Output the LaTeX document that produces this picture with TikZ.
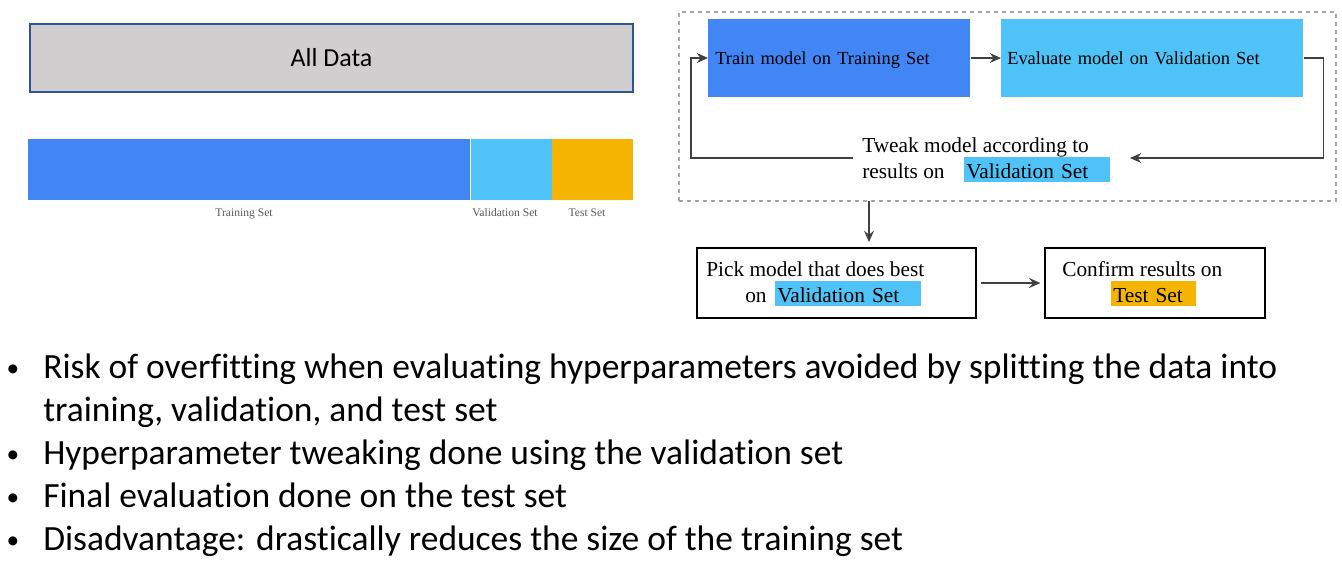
\documentclass[tikz,border=0pt]{standalone}
\usepackage{fontspec}
\setmainfont{Liberation Serif}
\newfontfamily\calibri[Ligatures=NoCommon]{Carlito}
\usetikzlibrary{arrows.meta}
\definecolor{alldata}{HTML}{D0CECF}
\definecolor{allborder}{HTML}{2F5597}
\definecolor{trainblue}{HTML}{4285F4}
\definecolor{valblue}{HTML}{4FC3F7}
\definecolor{testgold}{HTML}{F4B400}
\definecolor{linegray}{HTML}{404040}
\definecolor{dashgray}{HTML}{A6A6A6}
\definecolor{labelgray}{HTML}{595959}
\begin{document}
\begin{tikzpicture}[x=0.75pt,y=-0.75pt,
  arr/.style={draw=linegray, line width=1.4pt, -{Stealth[length=8.5pt,width=7.5pt,inset=3pt]}},
  seg/.style={draw=none, inner sep=0pt, minimum height=45.75pt, anchor=west},
  barlabel/.style={anchor=base, inner sep=0pt, text=labelgray, font=\fontsize{8.7}{10}\selectfont},
  stepbox/.style={anchor=west, inner ysep=0pt, minimum height=58.5pt, align=left,
    font=\fontsize{13.8}{16}\selectfont},
  bigtext/.style={anchor=base west, inner sep=0pt, font=\fontsize{16}{19}\selectfont},
  hl/.style={anchor=base west, inner xsep=1.5pt, inner ysep=0pt, align=left,
    text height=15.75pt, text depth=3pt, font=\fontsize{16}{19}\selectfont},
  framebox/.style={draw=black, line width=0.9pt, minimum height=52.5pt, inner sep=0pt},
  bullettext/.style={anchor=base west, inner sep=0pt, align=left,
    font=\calibri\fontsize{26.6}{32.25}\selectfont},
  bulletdot/.style={anchor=base, inner sep=0pt, font=\calibri\fontsize{19}{22}\selectfont}]
\useasboundingbox (0,0) rectangle (1342,565);

% the whole data set
\node[draw=allborder, line width=0.9pt, fill=alldata, minimum width=452.25pt, minimum height=51pt,
  inner sep=0pt, font=\calibri\fontsize{19.5}{23}\selectfont] (all) at (331.5,58) {All Data};

% split bar
\node[seg, fill=trainblue, minimum width=331.5pt] (trainseg) at (28,169.5) {};
\node[seg, fill=valblue, minimum width=60.75pt] (valseg) at (trainseg.east) {};
\node[seg, fill=testgold, minimum width=60.75pt] (testseg) at (valseg.east) {};
\node[barlabel] (trainlab) at (244,216.5) {Training Set};
\node[barlabel] (vallab) at (505,216.5) {Validation Set};
\node[barlabel] (testlab) at (587,216.5) {Test Set};

% tuning loop
\node[draw=dashgray, dashed, line width=0.9pt, minimum width=492.75pt, minimum height=141.75pt,
  inner sep=0pt] (loop) at (1007.5,106.5) {};
\node[stepbox, fill=trainblue, inner xsep=5.25pt, text width=186pt, text height=11pt, text depth=1pt] (train) at (708,58)
  {Train model on Training Set};
\node[stepbox, fill=valblue, inner xsep=4.5pt, text width=217.5pt, text height=11pt, text depth=1pt] (eval) at (1001,58)
  {Evaluate model on Validation Set};
\draw[arr] (train.east) -- (eval.west);

\node[bigtext] (tweak1) at (862,152) {Tweak model according to};
\node[bigtext] (tweak2) at (862,178) {results on};
\node[hl, fill=valblue, text width=106.5pt] (tweakhl) at (964,178) {Validation Set};

\coordinate (loopin) at (1130,158);
\coordinate (loopout) at (853,158);
\draw[arr] (eval.east) -- ++(20,0) |- (loopin);
\draw[arr] (loopout) -| ([xshift=-12.75pt]train.west) -- (train.west);

% model selection and final check
\node[framebox, minimum width=209.25pt] (pick) at (836.5,283) {};
\node[framebox, minimum width=165pt] (confirm) at (1155,283) {};

\node[bigtext] (pick1) at (706,276) {Pick model that does best};
\node[bigtext] (pick2) at (745,302) {on};
\node[hl, fill=valblue, text width=106.5pt] (pickhl) at (775,302) {Validation Set};

\node[bigtext] (conf1) at (1062,276) {Confirm results on};
\node[hl, fill=testgold, text width=60.75pt] (confhl) at (1111,302) {Test Set};

\coordinate (down) at (869,201);
\draw[arr, shorten >=4pt] (down) -- (down |- pick.north);
\draw[arr, shorten <=3pt, shorten >=3pt] (pick.east) -- (confirm.west);

% notes
\node[bulletdot] (b1) at (13,376) {•};
\node[bullettext] (t1) at (43,421) {Risk of overfitting when evaluating hyperparameters avoided by splitting the data into\\training, validation, and test set};
\node[bulletdot] (b2) at (13,462) {•};
\node[bullettext] (t2) at (43,464) {Hyperparameter tweaking done using the validation set};
\node[bulletdot] (b3) at (13,505) {•};
\node[bullettext] (t3) at (43,507) {Final evaluation done on the test set};
\node[bulletdot] (b4) at (13,548) {•};
\node[bullettext] (t4) at (43,550) {Disadvantage: drastically reduces the size of the training set};
\end{tikzpicture}
\end{document}
